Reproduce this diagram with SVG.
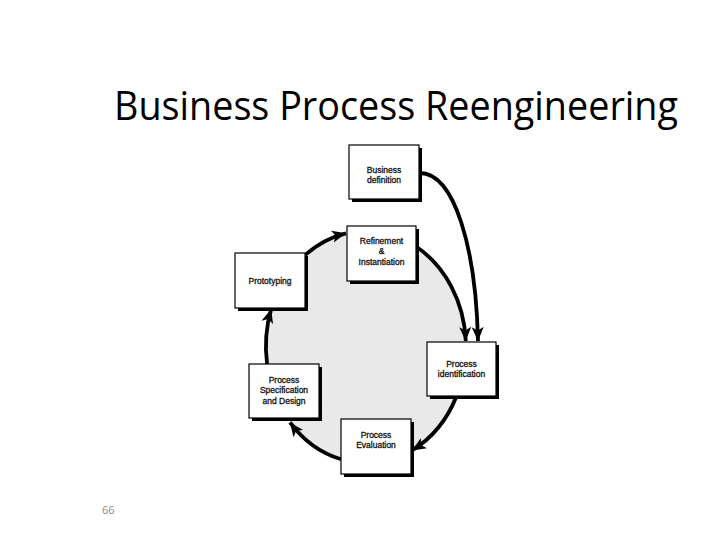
<svg xmlns="http://www.w3.org/2000/svg" width="720" height="540" viewBox="0 0 720 540">
<defs>
<style>
.box{fill:#fff;stroke:#000;stroke-width:1.2}
.sh{fill:#000}
.lbl{font-family:"Liberation Sans",Arial,sans-serif;font-size:8.5px;fill:#111;stroke:#111;stroke-width:0.3;text-anchor:middle}
.arc{fill:none;stroke:#000;stroke-width:3.8;stroke-linecap:butt}
</style>
<marker id="ah" markerUnits="userSpaceOnUse" markerWidth="16" markerHeight="14" refX="14" refY="6" orient="auto" viewBox="0 0 16 12">
<path d="M0,0 L14,6 L0,12 L3.5,6 Z" fill="#000"/>
</marker>
</defs>
<rect width="720" height="540" fill="#fff"/>
<text x="114" y="120" font-family="'Open Sans','Noto Sans',sans-serif" font-size="40" fill="#000" textLength="564" lengthAdjust="spacingAndGlyphs">Business Process Reengineering</text>
<ellipse cx="366" cy="347" rx="100" ry="116" fill="#e9e9e9"/>
<g id="connectors">
<path class="arc" d="M305,255.1 A100,116 0 0 1 346,233.3" marker-end="url(#ah)"/>
<path class="arc" d="M416,246.5 A100,116 0 0 1 465.8,341" marker-end="url(#ah)"/>
<path class="arc" d="M419,173 C455,172 476,250 478,341" marker-end="url(#ah)"/>
<path class="arc" d="M456.6,396 A100,116 0 0 1 412,450.4" marker-end="url(#ah)"/>
<path class="arc" d="M341,459.3 A100,116 0 0 1 290,422.4" marker-end="url(#ah)"/>
<path class="arc" d="M267.1,364 A100,116 0 0 1 271.2,309" marker-end="url(#ah)"/>
</g>
<g id="business-definition">
<rect class="sh" x="352" y="148" width="70" height="54"/>
<rect class="box" x="349" y="145" width="70" height="54"/>
<text class="lbl" x="384" y="173">Business</text>
<text class="lbl" x="384" y="183">definition</text>
</g>
<g id="refinement">
<rect class="sh" x="350" y="229" width="69" height="55"/>
<rect class="box" x="347" y="226" width="69" height="55"/>
<text class="lbl" x="381.5" y="244">Refinement</text>
<text class="lbl" x="381.5" y="254">&amp;</text>
<text class="lbl" x="381.5" y="265">Instantiation</text>
</g>
<g id="prototyping">
<rect class="sh" x="238" y="256" width="70" height="55"/>
<rect class="box" x="235" y="253" width="70" height="55"/>
<text class="lbl" x="270" y="284">Prototyping</text>
</g>
<g id="process-identification">
<rect class="sh" x="430" y="345" width="69" height="54"/>
<rect class="box" x="427" y="342" width="69" height="54"/>
<text class="lbl" x="461.5" y="367">Process</text>
<text class="lbl" x="461.5" y="377">identification</text>
</g>
<g id="process-specification">
<rect class="sh" x="252" y="367" width="70" height="54"/>
<rect class="box" x="249" y="364" width="70" height="54"/>
<text class="lbl" x="284" y="383">Process</text>
<text class="lbl" x="284" y="393">Specification</text>
<text class="lbl" x="284" y="404">and Design</text>
</g>
<g id="process-evaluation">
<rect class="sh" x="344" y="422" width="70" height="55"/>
<rect class="box" x="341" y="419" width="70" height="55"/>
<text class="lbl" x="376" y="438">Process</text>
<text class="lbl" x="376" y="448">Evaluation</text>
</g>
<text x="102" y="514" font-family="'Open Sans','Noto Sans',sans-serif" font-size="11" fill="#8a8a8a">66</text>
</svg>
